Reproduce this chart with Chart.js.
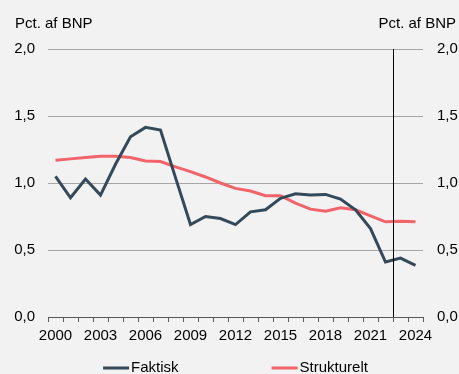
<!DOCTYPE html>
<html>
<head>
<meta charset="utf-8">
<script src="https://cdn.jsdelivr.net/npm/chart.js@4/dist/chart.umd.min.js"></script>
<style>
  html, body { margin: 0; padding: 0; background: #f2f2f2; overflow: hidden; }
  #wrap { width: 459px; height: 374px; }
</style>
</head>
<body>
<div id="wrap"><canvas id="myChart"></canvas></div>
<script>
'use strict';

let years = [];
for (let y = 2000; y <= 2024; y++) years.push(String(y));

let faktisk = [1.05, 0.89, 1.03, 0.91, 1.14, 1.345, 1.415, 1.395, 1.04, 0.69,
    0.75, 0.735, 0.69, 0.785, 0.80, 0.885, 0.92, 0.91, 0.915, 0.88,
    0.80, 0.66, 0.41, 0.44, 0.385];
let strukturelt = [1.17, 1.18, 1.19, 1.20, 1.20, 1.19, 1.165, 1.16, 1.12, 1.085,
    1.045, 1.00, 0.96, 0.94, 0.905, 0.905, 0.85, 0.805, 0.79, 0.815,
    0.80, 0.755, 0.71, 0.715, 0.71];

let yTicks = [0, 0.5, 1, 1.5, 2];
let axisTitle = 'Pct. af BNP';
// forecast starts after this year
let splitYear = '2022';

let fontFamily = '"Liberation Sans", Arial, sans-serif';
let fontSize = 15;

function commaFmt(v) {
    return v.toFixed(1).replace('.', ',');
}

// titles, the forecast divider and the legend
let extras = {
    id: 'extras',
    afterDatasetsDraw(chart) {
        let ctx = chart.ctx;
        let area = chart.chartArea;
        let x = chart.scales.x;
        let i = years.indexOf(splitYear);
        let lineX = Math.round((x.getPixelForValue(i) + x.getPixelForValue(i + 1)) / 2) + 0.5;
        ctx.save();
        ctx.strokeStyle = '#000';
        ctx.lineWidth = 1;
        ctx.beginPath();
        ctx.moveTo(lineX, area.top);
        ctx.lineTo(lineX, area.bottom);
        ctx.stroke();
        ctx.restore();
    },
    afterDraw(chart) {
        let ctx = chart.ctx;
        let area = chart.chartArea;
        ctx.save();
        ctx.font = fontSize + 'px ' + fontFamily;
        ctx.fillStyle = '#000';
        ctx.textBaseline = 'alphabetic';
        ctx.textAlign = 'left';
        ctx.fillText(axisTitle, 15, 28);
        ctx.textAlign = 'right';
        ctx.fillText(axisTitle, chart.width - 3, 28);

        // legend, centred under the plot
        let gap = 93;
        let lineLen = 26;
        let items = chart.data.datasets.map(ds => ({
            label: ds.label, color: ds.borderColor,
            w: lineLen + 2 + ctx.measureText(ds.label).width
        }));
        let total = items.reduce((s, it) => s + it.w, 0) + gap * (items.length - 1);
        let lx = (area.left + area.right) / 2 - total / 2;
        let ly = 368;
        ctx.textAlign = 'left';
        ctx.textBaseline = 'middle';
        items.forEach(it => {
            ctx.strokeStyle = it.color;
            ctx.lineWidth = 3;
            ctx.beginPath();
            ctx.moveTo(lx, ly);
            ctx.lineTo(lx + lineLen, ly);
            ctx.stroke();
            ctx.fillStyle = '#000';
            ctx.fillText(it.label, lx + lineLen + 2, ly);
            lx += it.w + gap;
        });
        ctx.restore();
    }
};

let ctx = document.getElementById('myChart');
let myChart = new Chart(ctx, {
    type: 'line',
    data: {
        labels: years,
        datasets: [{
            label: 'Faktisk',
            data: faktisk,
            borderColor: '#34495a',
            backgroundColor: '#34495a',
            borderWidth: 3,
            pointRadius: 0,
            tension: 0
        },
        {
            label: 'Strukturelt',
            data: strukturelt,
            borderColor: '#f26469',
            backgroundColor: '#f26469',
            borderWidth: 3,
            pointRadius: 0,
            tension: 0
        }]
    },
    options: {
        responsive: true,
        maintainAspectRatio: false,
        animation: false,
        layout: { padding: { top: 49, left: 0, right: 0, bottom: 0 } },
        plugins: {
            legend: { display: false },
            tooltip: { enabled: false }
        },
        scales: {
            x: {
                type: 'category',
                offset: true,
                grid: {
                    offset: true,
                    drawOnChartArea: false,
                    drawTicks: true,
                    tickLength: 5,
                    color: '#595959'
                },
                border: { color: '#595959', width: 1 },
                ticks: {
                    autoSkip: false,
                    maxRotation: 0,
                    padding: 5,
                    color: '#000',
                    font: { family: fontFamily, size: fontSize },
                    callback: function (val, index) {
                        return index % 3 === 0 ? this.getLabelForValue(val) : '';
                    }
                },
                afterFit(scale) { scale.height = 57; }
            },
            y: {
                position: 'left',
                min: 0,
                max: 2,
                afterBuildTicks(scale) { scale.ticks = yTicks.map(v => ({ value: v })); },
                grid: { color: '#a6a6a6', drawTicks: false },
                border: { display: false },
                ticks: {
                    padding: 13,
                    color: '#000',
                    font: { family: fontFamily, size: fontSize },
                    callback: v => commaFmt(v)
                },
                afterFit(scale) { scale.width = 48; }
            },
            y2: {
                position: 'right',
                min: 0,
                max: 2,
                afterBuildTicks(scale) { scale.ticks = yTicks.map(v => ({ value: v })); },
                grid: { display: false, drawTicks: false },
                border: { display: false },
                ticks: {
                    padding: 14,
                    color: '#000',
                    font: { family: fontFamily, size: fontSize },
                    callback: v => commaFmt(v)
                },
                afterFit(scale) { scale.width = 36; }
            }
        }
    },
    plugins: [extras]
});
</script>
</body>
</html>
